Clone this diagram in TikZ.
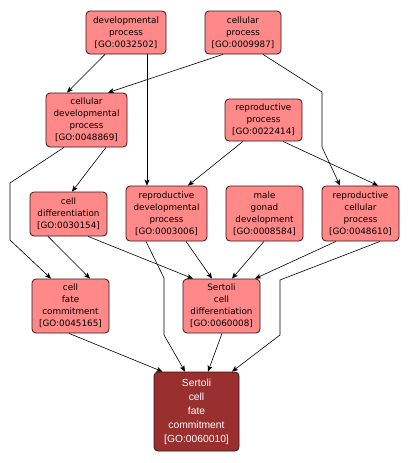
\documentclass[tikz,border=0pt]{standalone}
\usepackage{fontspec}
\setmainfont{DejaVu Sans}
\newfontfamily\whitefont{Liberation Sans}
\usepackage{xcolor}
\usetikzlibrary{arrows.meta,positioning}

\definecolor{goterm}{RGB}{255,137,137}
\definecolor{goquery}{RGB}{154,47,47}
\definecolor{goedge}{RGB}{60,20,20}

\begin{document}
\begin{tikzpicture}[x=1pt,y=-1pt,
    term/.style={draw=goedge, fill=goterm, rounded corners=4pt, line width=0.8pt,
        align=center, inner sep=0pt, font=\fontsize{8.8}{12}\selectfont},
    query/.style={term, fill=goquery, text=white,
        font=\whitefont\fontsize{10.3}{14}\selectfont},
    isa/.style={-{Stealth[length=6pt,width=5pt,inset=1.5pt]}, line width=0.6pt}]
    \useasboundingbox (0,0) rectangle (409,463);

    % Terms
    \node[term, minimum width=80pt, minimum height=43pt] (dev) at (126,32.5)
        {developmental\\process\\{[}GO:0032502{]}};
    \node[term, minimum width=76pt, minimum height=43pt] (cell) at (243,32.5)
        {cellular\\process\\{[}GO:0009987{]}};
    \node[term, minimum width=81pt, minimum height=54pt] (celldev) at (86.5,120)
        {cellular\\developmental\\process\\{[}GO:0048869{]}};
    \node[term, minimum width=77pt, minimum height=42pt] (repro) at (263.5,120)
        {reproductive\\process\\{[}GO:0022414{]}};
    \node[term, minimum width=77pt, minimum height=44pt] (celldiff) at (68.5,214)
        {cell\\differentiation\\{[}GO:0030154{]}};
    \node[term, minimum width=81pt, minimum height=55pt] (reprodev) at (166.5,213.5)
        {reproductive\\developmental\\process\\{[}GO:0003006{]}};
    \node[term, minimum width=77pt, minimum height=55pt] (gonad) at (264.5,213.5)
        {male\\gonad\\development\\{[}GO:0008584{]}};
    \node[term, minimum width=77pt, minimum height=55pt] (reprocell) at (360.5,213.5)
        {reproductive\\cellular\\process\\{[}GO:0048610{]}};
    \node[term, minimum width=77pt, minimum height=54pt] (fate) at (70.5,306)
        {cell\\fate\\commitment\\{[}GO:0045165{]}};
    \node[term, minimum width=77pt, minimum height=54pt] (sertdiff) at (221.5,306)
        {Sertoli\\cell\\differentiation\\{[}GO:0060008{]}};
    \node[query, minimum width=85pt, minimum height=79pt] (sertfate) at (196.5,411.5)
        {Sertoli\\cell\\fate\\commitment\\{[}GO:0060010{]}};

    % Bends
    \coordinate (b1) at (322,92);
    \coordinate (b2) at (322,147);
    \coordinate (b3) at (10,183);
    \coordinate (b4) at (10,240);
    \coordinate (b5) at (164,278);
    \coordinate (b6) at (164,335);
    \coordinate (b7) at (280,280);
    \coordinate (b8) at (280,335);

    % is_a edges
    \draw[isa] ([xshift=-21pt]dev.south) -- ([xshift=-19.5pt]celldev.north);
    \draw[isa] ([xshift=-20pt]cell.south) -- ([xshift=21.5pt]celldev.north);
    \draw[isa] ([xshift=21pt]dev.south) -- ([xshift=-19.5pt]reprodev.north);
    \draw[isa] ([xshift=20pt]cell.south) -- (b1) -- (b2) -- ([xshift=-20.5pt]reprocell.north);
    \draw[isa] ([xshift=-20.5pt]repro.south) -- ([xshift=21.5pt]reprodev.north);
    \draw[isa] ([xshift=19.5pt]repro.south) -- ([xshift=17.5pt]reprocell.north);
    \draw[isa] ([xshift=19.5pt]celldev.south) -- ([xshift=3.5pt]celldiff.north);
    \draw[isa] ([xshift=-22.5pt]celldev.south) -- (b3) -- (b4) -- ([xshift=-19.5pt]fate.north);
    \draw[isa] ([xshift=-20.5pt]celldiff.south) -- ([xshift=19.5pt]fate.north);
    \draw[isa] ([xshift=19.5pt]celldiff.south) -- ([xshift=-28.5pt]sertdiff.north);
    \draw[isa] ([xshift=19.5pt]reprodev.south) -- ([xshift=-9.5pt]sertdiff.north);
    \draw[isa] ([xshift=-20.5pt]reprodev.south) -- (b5) -- (b6) -- ([xshift=-11.5pt]sertfate.north);
    \draw[isa] ([xshift=-0.5pt]gonad.south) -- ([xshift=10.5pt]sertdiff.north);
    \draw[isa] ([xshift=-24.5pt]reprocell.south) -- ([xshift=33.5pt]sertdiff.north);
    \draw[isa] ([xshift=19.5pt]reprocell.south) -- (b7) -- (b8) -- ([xshift=35.5pt]sertfate.north);
    \draw[isa] ([xshift=-1.5pt]fate.south) -- ([xshift=-34pt]sertfate.north);
    \draw[isa] ([xshift=0.5pt]sertdiff.south) -- ([xshift=11.5pt]sertfate.north);
\end{tikzpicture}
\end{document}
